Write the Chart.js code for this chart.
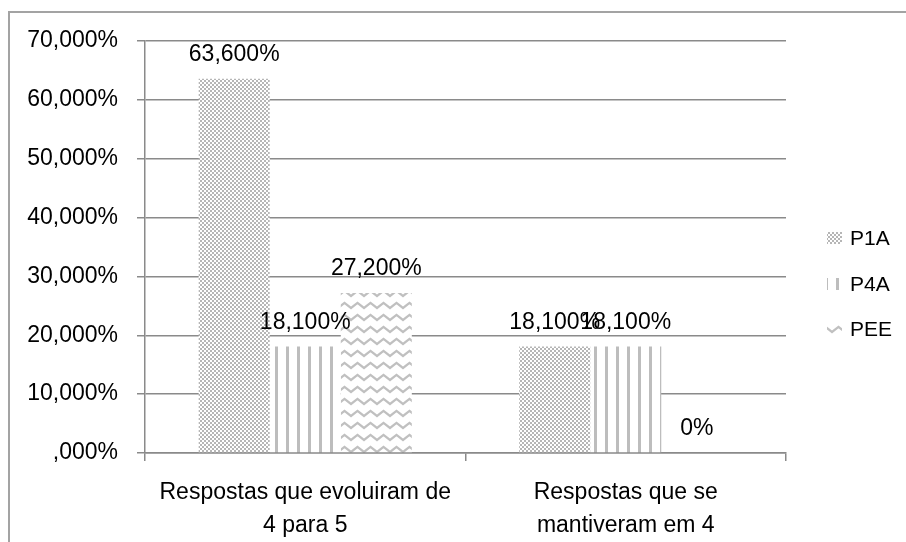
<!DOCTYPE html>
<html>
<head>
<meta charset="utf-8">
<script src="https://cdn.jsdelivr.net/npm/chart.js@4/dist/chart.umd.min.js"></script>
<style>
  body { margin: 0; background: #fff; }
  #frame { position: absolute; left: 8px; top: 11px; width: 1000px; height: 1000px;
           border-top: 2px solid #a3a3a3; border-left: 2px solid #a3a3a3; }
  #wrap { position: absolute; left: 0; top: 0; width: 906px; height: 542px; overflow: hidden; }
  canvas { position: absolute; left: 0; top: 0; }
</style>
</head>
<body>
<div id="wrap">
  <div id="frame"></div>
  <canvas id="chart" width="906" height="542"></canvas>
</div>
<script>
const categories = [
  ["Respostas que evoluiram de", "4 para 5"],
  ["Respostas que se", "mantiveram em 4"],
];
const seriesNames = ["P1A", "P4A", "PEE"];
const p1a = [63.6, 18.1];
const p4a = [18.1, 18.1];
const pee = [27.2, 0];
const yTickLabels = [",000%", "10,000%", "20,000%", "30,000%", "40,000%", "50,000%", "60,000%", "70,000%"];

const FONT = "'Liberation Sans', Arial, sans-serif";
const GRID = "#8a8a8a";

// fill patterns like the excel ones
function makePattern(w, h, draw) {
  const tile = document.createElement("canvas");
  tile.width = w;
  tile.height = h;
  const t = tile.getContext("2d");
  t.fillStyle = "#fff";
  t.fillRect(0, 0, w, h);
  draw(t);
  return document.createElement("canvas").getContext("2d").createPattern(tile, "repeat");
}

const checker = makePattern(4, 4, (t) => {
  t.fillStyle = "#b6b6b6";
  t.fillRect(0, 0, 2, 2);
  t.fillRect(2, 2, 2, 2);
});
const stripes = makePattern(11, 4, (t) => {
  t.fillStyle = "#bdbdbd";
  t.fillRect(0, 0, 3, 4);
});
const waves = makePattern(13, 12, (t) => {
  t.strokeStyle = "#c0c0c0";
  t.lineWidth = 2.2;
  t.beginPath();
  t.moveTo(-3.25, 5.5);
  t.lineTo(0, 8);
  t.lineTo(6.5, 3);
  t.lineTo(13, 8);
  t.lineTo(16.25, 5.5);
  t.stroke();
});
const fills = [checker, stripes, waves];

function fmt(v) {
  return v === 0 ? "0%" : v.toFixed(3).replace(".", ",") + "%";
}

const labelsPlugin = {
  id: "barLabels",
  afterDatasetsDraw(chart) {
    const ctx = chart.ctx;
    ctx.save();
    ctx.font = "23px " + FONT;
    ctx.fillStyle = "#000";
    ctx.textAlign = "center";
    ctx.textBaseline = "middle";
    chart.data.datasets.forEach((ds, i) => {
      chart.getDatasetMeta(i).data.forEach((bar, j) => {
        ctx.fillText(fmt(ds.data[j]), bar.x, bar.y - 24);
      });
    });
    ctx.restore();
  },
};

const legendPlugin = {
  id: "sideLegend",
  afterDraw(chart) {
    const ctx = chart.ctx;
    const rows = [238, 284, 329];
    ctx.save();
    ctx.font = "21px " + FONT;
    ctx.textBaseline = "middle";
    seriesNames.forEach((name, i) => {
      ctx.fillStyle = fills[i];
      ctx.fillRect(827, rows[i] - 6, 15, 12);
      ctx.fillStyle = "#000";
      ctx.fillText(name, 850, rows[i] + 1);
    });
    ctx.restore();
  },
};

new Chart(document.getElementById("chart"), {
  type: "bar",
  data: {
    labels: categories,
    datasets: [
      { label: seriesNames[0], data: p1a, backgroundColor: fills[0] },
      { label: seriesNames[1], data: p4a, backgroundColor: fills[1] },
      { label: seriesNames[2], data: pee, backgroundColor: fills[2] },
    ],
  },
  options: {
    responsive: false,
    animation: false,
    layout: { padding: { left: 0, top: 41, right: 120, bottom: 0 } },
    datasets: { bar: { barPercentage: 1, categoryPercentage: 0.665 } },
    plugins: { legend: { display: false }, tooltip: { enabled: false } },
    scales: {
      x: {
        afterFit: (s) => { s.height = 89; },
        grid: { drawOnChartArea: false, drawTicks: true, tickLength: 8, color: GRID, lineWidth: 1.5 },
        border: { color: GRID, width: 1.5 },
        ticks: {
          color: "#000",
          padding: 15,
          font: { family: FONT, size: 23, lineHeight: "33px" },
        },
      },
      y: {
        min: 0,
        max: 70,
        afterFit: (s) => { s.width = 145; },
        grid: { color: GRID, lineWidth: 1.5, tickLength: 8 },
        border: { color: GRID, width: 1.5 },
        ticks: {
          stepSize: 10,
          color: "#000",
          padding: 19,
          font: { family: FONT, size: 23 },
          callback: (v, i) => yTickLabels[i],
        },
      },
    },
  },
  plugins: [labelsPlugin, legendPlugin],
});
</script>
</body>
</html>
